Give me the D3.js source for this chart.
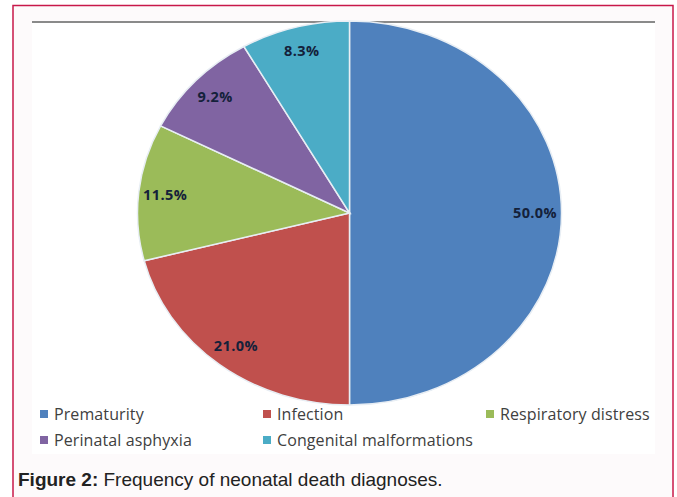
<!DOCTYPE html>
<html>
<head>
<meta charset="utf-8">
<script src="https://cdn.jsdelivr.net/npm/d3@7"></script>
<style>
  body { margin: 0; background: #fff; }
  svg { display: block; }
</style>
</head>
<body>
<svg id="chart"></svg>
<script>
const categories = ["Prematurity", "Infection", "Respiratory distress", "Perinatal asphyxia", "Congenital malformations"];
const values = [50.0, 21.0, 11.5, 9.2, 8.3];
const colors = ["#4f81bd", "#c0504d", "#9bbb59", "#8064a2", "#4bacc6"];
const caption = ["Figure 2:", " Frequency of neonatal death diagnoses."];

const width = 677, height = 497;
const cx = 349.5, cy = 213, rx = 212, ry = 192;

const svg = d3.select("#chart")
  .attr("width", width)
  .attr("height", height);

// outer frame
svg.append("rect")
  .attr("x", 13).attr("y", 5.5)
  .attr("width", 660).attr("height", 500)
  .attr("fill", "#fdfafb")
  .attr("stroke", "#c8184a")
  .attr("stroke-width", 1.5);

// chart area
svg.append("rect")
  .attr("x", 32).attr("y", 22)
  .attr("width", 623).attr("height", 432)
  .attr("fill", "#fff");

svg.append("line")
  .attr("x1", 32).attr("x2", 655)
  .attr("y1", 22).attr("y2", 22)
  .attr("stroke", "#8a8a8a")
  .attr("stroke-width", 2);

const pie = d3.pie().sort(null).value(d => d.value);
const data = categories.map((c, i) => ({name: c, value: values[i], color: colors[i]}));
const arcs = pie(data);

const arc = d3.arc().innerRadius(0).outerRadius(rx);
const labelArc = d3.arc().innerRadius(rx * 0.875).outerRadius(rx * 0.875);

const pieG = svg.append("g")
  .attr("transform", "translate(" + cx + "," + cy + ") scale(1," + (ry / rx) + ")");

pieG.selectAll("path")
  .data(arcs)
  .enter().append("path")
  .attr("d", arc)
  .attr("fill", d => d.data.color)
  .attr("stroke", "#e8eef4")
  .attr("stroke-width", 1.5)
  .attr("vector-effect", "non-scaling-stroke");

svg.append("g")
  .attr("transform", "translate(" + cx + "," + cy + ")")
  .selectAll("text")
  .data(arcs)
  .enter().append("text")
  .attr("x", d => labelArc.centroid(d)[0])
  .attr("y", d => labelArc.centroid(d)[1] * ry / rx)
  .attr("dy", "0.35em")
  .attr("text-anchor", "middle")
  .style("font-family", "'Open Sans', Lato, sans-serif")
  .style("font-weight", "bold")
  .style("font-size", "14.5px")
  .style("letter-spacing", "0.4px")
  .style("fill", "#14213a")
  .text(d => d3.format(".1f")(d.value) + "%");

// legend
const legendPos = [[40, 414], [263, 414], [486, 414], [40, 440], [263, 440]];
const legend = svg.append("g")
  .selectAll("g")
  .data(data)
  .enter().append("g")
  .attr("transform", (d, i) => "translate(" + legendPos[i][0] + "," + legendPos[i][1] + ")");

legend.append("rect")
  .attr("x", 0).attr("y", -4)
  .attr("width", 8).attr("height", 8)
  .attr("fill", d => d.color);

legend.append("text")
  .attr("x", 14)
  .attr("dy", "0.35em")
  .style("font-family", "'Open Sans', Lato, sans-serif")
  .style("font-size", "16px")
  .style("letter-spacing", "0.1px")
  .style("fill", "#404040")
  .text(d => d.name);

// caption
const cap = svg.append("text")
  .attr("x", 18).attr("y", 486)
  .style("font-family", "'Liberation Sans', Arial, sans-serif")
  .style("font-size", "19px")
  .style("fill", "#222");
cap.append("tspan").style("font-weight", "bold").text(caption[0]);
cap.append("tspan").text(caption[1]);
</script>
</body>
</html>
